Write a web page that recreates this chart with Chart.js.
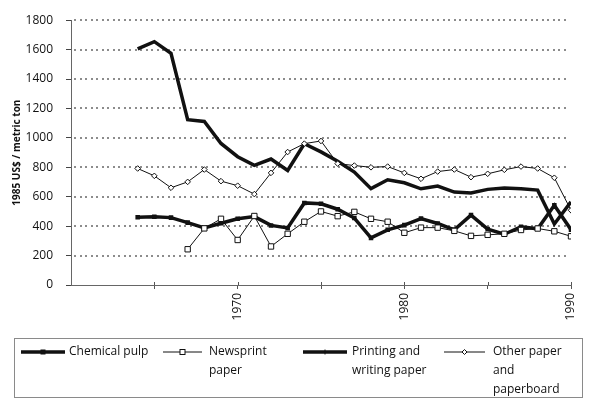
<!DOCTYPE html>
<html>
<head>
<meta charset="utf-8">
<script src="https://cdn.jsdelivr.net/npm/chart.js@4.4.0/dist/chart.umd.min.js"></script>
<style>
  html, body { margin: 0; padding: 0; background: #fff; }
  #wrap { width: 600px; height: 413px; }
</style>
</head>
<body>
<div id="wrap"><canvas id="c" width="600" height="413"></canvas></div>
<script>
// years 1964 - 1990
let years = [1964, 1965, 1966, 1967, 1968, 1969, 1970, 1971, 1972, 1973, 1974, 1975, 1976, 1977,
             1978, 1979, 1980, 1981, 1982, 1983, 1984, 1985, 1986, 1987, 1988, 1989, 1990];

let chemicalPulp = [460, 464, 458, 424, 388, 420, 450, 465, 405, 388, 558, 552, 515, 455,
                    320, 375, 407, 452, 418, 375, 475, 380, 345, 396, 382, 542, 376];

let newsprint = [null, null, null, 243, 385, 450, 306, 469, 262, 348, 430, 500, 468, 497,
                 450, 430, 355, 390, 390, 368, 334, 341, 348, 374, 384, 365, 331];

let printingWriting = [1605, 1654, 1575, 1124, 1112, 962, 872, 813, 856, 778, 960, 905, 841, 768,
                       655, 715, 695, 654, 672, 632, 625, 650, 659, 654, 645, 415, 565];

let otherPaper = [792, 742, 661, 701, 785, 706, 675, 618, 762, 904, 961, 979, 825, 812,
                  800, 805, 762, 722, 771, 785, 733, 756, 783, 805, 792, 729, 508];

let yTicks = [0, 200, 400, 600, 800, 1000, 1200, 1400, 1600, 1800];
let xLabelYears = [1970, 1980, 1990];

const FONT = "'Open Sans', 'DejaVu Sans', sans-serif";

const toPoints = (vals) => years.map((yr, i) => ({ x: yr, y: vals[i] }));

// legend entries drawn by hand (box with wrapped text)
let legendItems = [
    { lines: ["Chemical pulp"], x1: 21, x2: 65, tx: 69, width: 3.5, marker: "fill" },
    { lines: ["Newsprint", "paper"], x1: 163, x2: 202, tx: 209, width: 1, marker: "square" },
    { lines: ["Printing and", "writing paper"], x1: 303, x2: 347, tx: 352, width: 3.5, marker: "tick" },
    { lines: ["Other paper", "and", "paperboard"], x1: 444, x2: 485, tx: 493, width: 1, marker: "diamond" }
];

const legendBox = {
    id: "legendBox",
    afterDraw(chart) {
        const ctx = chart.ctx;
        ctx.save();
        ctx.strokeStyle = "#8a8a8a";
        ctx.lineWidth = 1;
        ctx.strokeRect(14.5, 338.5, 568, 59);

        legendItems.forEach(it => {
            let y = 352;
            ctx.strokeStyle = "#111";
            ctx.lineWidth = it.width;
            ctx.beginPath();
            ctx.moveTo(it.x1, y);
            ctx.lineTo(it.x2, y);
            ctx.stroke();
            let mx = (it.x1 + it.x2) / 2;
            ctx.lineWidth = 1;
            if (it.marker == "fill") {
                ctx.fillStyle = "#111";
                ctx.fillRect(mx - 2.5, y - 2.5, 5, 5);
            } else if (it.marker == "square") {
                ctx.fillStyle = "#fff";
                ctx.fillRect(mx - 2.5, y - 2.5, 5, 5);
                ctx.strokeRect(mx - 2.5, y - 2.5, 5, 5);
            } else if (it.marker == "diamond") {
                ctx.fillStyle = "#fff";
                ctx.beginPath();
                ctx.moveTo(mx, y - 2.5);
                ctx.lineTo(mx + 2.5, y);
                ctx.lineTo(mx, y + 2.5);
                ctx.lineTo(mx - 2.5, y);
                ctx.closePath();
                ctx.fill();
                ctx.stroke();
            } else if (it.marker == "tick") {
                ctx.beginPath();
                ctx.moveTo(mx, y - 2.5);
                ctx.lineTo(mx, y + 2.5);
                ctx.stroke();
            }
            ctx.fillStyle = "#111";
            ctx.font = "12px " + FONT;
            ctx.textBaseline = "middle";
            ctx.textAlign = "left";
            it.lines.forEach((t, k) => ctx.fillText(t, it.tx, y + k * 19));
        });
        ctx.restore();
    }
};

// dotted horizontal grid + x ticks crossing the axis line
const axisMarks = {
    id: "axisMarks",
    beforeDatasetsDraw(chart) {
        const ctx = chart.ctx, ys = chart.scales.y, area = chart.chartArea;
        ctx.save();
        ctx.fillStyle = "#8c8c8c";
        yTicks.forEach(v => {
            if (v === 0) return;
            let py = Math.round(ys.getPixelForValue(v));
            // small dots, one every 5.5px
            for (let x = area.left + 3; x < area.right - 4; x += 5.5) {
                ctx.fillRect(Math.round(x), py - 1, 2, 2);
            }
        });
        ctx.restore();
    },
    afterDatasetsDraw(chart) {
        const ctx = chart.ctx, xs = chart.scales.x, bottom = chart.chartArea.bottom;
        ctx.save();
        ctx.strokeStyle = "#555";
        ctx.lineWidth = 1;
        for (let v = 1965; v <= 1990; v += 5) {
            let px = Math.round(xs.getPixelForValue(v)) + 0.5;
            ctx.beginPath();
            ctx.moveTo(px, bottom - 3);
            ctx.lineTo(px, bottom);
            ctx.stroke();
        }
        ctx.restore();
    }
};

new Chart(document.getElementById("c"), {
    type: "line",
    data: {
        datasets: [
            {
                label: "Newsprint paper", data: toPoints(newsprint),
                borderColor: "#111", borderWidth: 1, pointStyle: "rect", pointRadius: 3.8,
                pointBackgroundColor: "#fff", pointBorderColor: "#111", pointBorderWidth: 1, order: 1
            },
            {
                label: "Other paper and paperboard", data: toPoints(otherPaper),
                borderColor: "#111", borderWidth: 1, pointStyle: "rectRot", pointRadius: 2.8,
                pointBackgroundColor: "#fff", pointBorderColor: "#111", pointBorderWidth: 1, order: 2
            },
            {
                label: "Chemical pulp", data: toPoints(chemicalPulp),
                borderColor: "#111", borderWidth: 3.5, pointStyle: "rect", pointRadius: 3.2,
                pointBackgroundColor: "#111", pointBorderColor: "#111", pointBorderWidth: 0, order: 3
            },
            {
                label: "Printing and writing paper", data: toPoints(printingWriting),
                borderColor: "#111", borderWidth: 3.5, pointRadius: 0, order: 4
            }
        ]
    },
    options: {
        responsive: false,
        animation: false,
        layout: { padding: { top: 19, right: 29, left: 0, bottom: 0 } },
        plugins: { legend: { display: false }, tooltip: { enabled: false } },
        elements: { line: { tension: 0 } },
        scales: {
            x: {
                type: "linear", min: 1960, max: 1990,
                afterFit: s => { s.height = 128; },
                afterBuildTicks: s => { s.ticks = [1965, 1970, 1975, 1980, 1985, 1990].map(v => ({ value: v })); },
                grid: { drawOnChartArea: false, color: "#555", tickLength: 4 },
                border: { color: "#666", width: 1 },
                ticks: {
                    minRotation: 90, maxRotation: 90, padding: 4, color: "#111",
                    font: { family: FONT, size: 12 },
                    callback: v => xLabelYears.includes(v) ? String(v) : ""
                }
            },
            y: {
                min: 0, max: 1800,
                afterFit: s => { s.width = 71; },
                afterBuildTicks: s => { s.ticks = yTicks.map(v => ({ value: v })); },
                grid: { drawOnChartArea: false, color: "#444", tickLength: 5 },
                border: { color: "#666", width: 1 },
                ticks: {
                    padding: 13, color: "#111", font: { family: FONT, size: 12 },
                    callback: v => String(v)
                },
                title: {
                    display: true, text: "1985 US$ / metric ton", color: "#111",
                    font: { family: FONT, size: 10, weight: "bold" }, padding: { top: 11, bottom: 0 }
                }
            }
        }
    },
    plugins: [legendBox, axisMarks]
});
</script>
</body>
</html>
